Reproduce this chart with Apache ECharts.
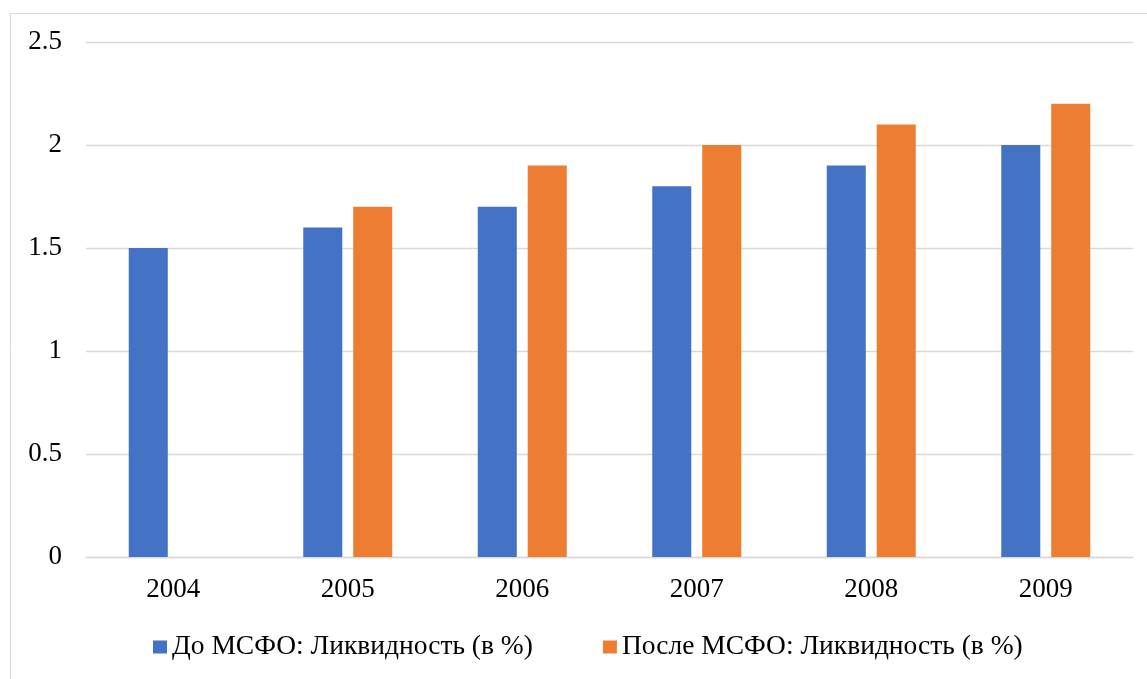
<!DOCTYPE html>
<html><head><meta charset="utf-8">
<script src="https://cdn.jsdelivr.net/npm/echarts@6/dist/echarts.min.js"></script>
<style>html,body{margin:0;padding:0;background:#fff}#c{width:1147px;height:679px}</style>
</head><body><div id="c"></div>
<script>
const categories = ['2004','2005','2006','2007','2008','2009'];
const beforeIFRS = [1.5, 1.6, 1.7, 1.8, 1.9, 2.0];
const afterIFRS = [null, 1.7, 1.9, 2.0, 2.1, 2.2];
const seriesNames = ['До МСФО: Ликвидность (в %)', 'После МСФО: Ликвидность (в %)'];
const font = '"Liberation Serif", "Times New Roman", serif';
const chart = echarts.init(document.getElementById('c'));
chart.setOption({
  animation: false,
  textStyle: {fontFamily: font},
  graphic: [{type:'rect', shape:{x:10.5, y:13.5, width:1200, height:700}, style:{fill:null, stroke:'#d9d9d9', lineWidth:1}, silent:true}],
  grid: {left: 86, right: 14, top: 42, bottom: 122},
  legend: {
    top: 633, left: 153, padding: 0, itemWidth: 14, itemHeight: 13, itemGap: 70,
    icon: 'rect',
    textStyle: {fontFamily: font, fontSize: 27.5, color: '#000'},
    data: seriesNames
  },
  xAxis: {
    type: 'category', data: categories,
    axisLine: {lineStyle: {color: '#d9d9d9', width: 1.3}},
    axisTick: {show: false},
    axisLabel: {fontFamily: font, fontSize: 27, color: '#000', margin: 19}
  },
  yAxis: {
    type: 'value', min: 0, max: 2.5, interval: 0.5,
    axisLine: {show: false}, axisTick: {show: false},
    splitLine: {lineStyle: {color: '#d9d9d9', width: 1.3}},
    axisLabel: {fontFamily: font, fontSize: 27, color: '#000', margin: 24}
  },
  series: [
    {name: seriesNames[0], type: 'bar', data: beforeIFRS, itemStyle: {color: '#4472C4'}, barGap: '28%', barCategoryGap: '49%'},
    {name: seriesNames[1], type: 'bar', data: afterIFRS, itemStyle: {color: '#ED7D31'}, barGap: '28%', barCategoryGap: '49%'}
  ]
});
</script></body></html>
